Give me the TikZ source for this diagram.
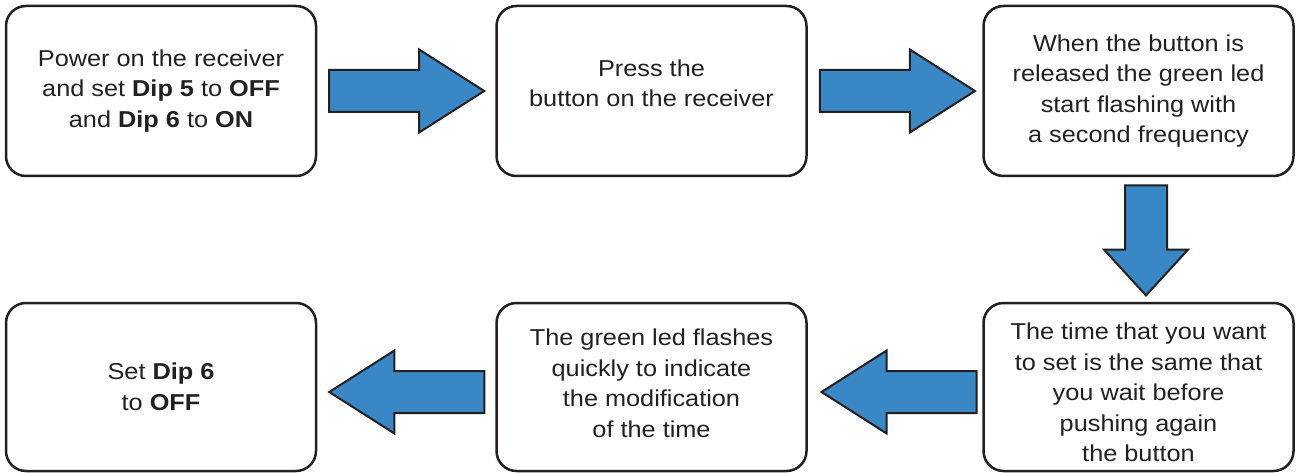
\documentclass[tikz,border=0pt]{standalone}
\usepackage{fontspec}
\setmainfont{Liberation Sans}[FakeStretch=1.1]
\usetikzlibrary{shapes.arrows,calc}

\definecolor{arrowblue}{RGB}{58,135,198}
\definecolor{inkline}{RGB}{35,31,32}

\tikzset{
  stepbox/.style={draw=inkline, line width=2.5pt, rounded corners=20pt,
    minimum width=310pt, minimum height=170pt, inner sep=0pt,
    align=center, text=inkline, font=\fontsize{23}{30.5}\selectfont},
  blockarrow/.style={single arrow, draw=inkline, line width=2pt, fill=arrowblue,
    inner sep=20pt, single arrow head extend=20.5pt, minimum height=155pt,
    single arrow tip angle=65},
}

\begin{document}
\begin{tikzpicture}[x=1pt,y=-1pt]

      \useasboundingbox (0,0) rectangle (1297,473);

      % top row
      \node[stepbox] (power) at (161,91) {Power on the receiver\\
        and set \textbf{Dip 5} to \textbf{OFF}\\ and \textbf{Dip 6} to \textbf{ON}};
      \node[stepbox, text depth=16pt] (press) at (651.5,91) {Press the\\ button on the receiver};
      \node[stepbox] (release) at (1138.5,91) {When the button is\\
        released the green led\\ start flashing with\\ a second frequency};

      % bottom row
      \node[stepbox, minimum height=168pt, text height=150pt] (wait) at (1138.5,387)
        {The time that you want\\ to set is the same that\\ you wait before\\
        pushing again\\ the button};
      \node[stepbox, minimum height=168pt, text depth=8pt] (flash) at (651.5,387)
        {The green led flashes\\ quickly to indicate\\ the modification\\ of the time};
      \node[stepbox, minimum height=168pt] (setoff) at (161,387) {Set \textbf{Dip 6}\\
        to \textbf{OFF}};

      % block arrows between the steps
      \node[blockarrow, xshift=-16pt] (a1) at ($(power)!0.5!(press)$) {};
      \node[blockarrow, xshift=-14pt] (a2) at ($(press)!0.5!(release)$) {};
      \node[blockarrow, shape border rotate=270, minimum height=110pt,
        single arrow head extend=21pt, single arrow tip angle=85,
        xshift=7.5pt, yshift=10pt] (a3) at ($(release)!0.5!(wait)$) {};
      \node[blockarrow, shape border rotate=180, yshift=-5pt, xshift=20.5pt]
        (a4) at ($(wait)!0.5!(flash)$) {};
      \node[blockarrow, shape border rotate=180, yshift=-5pt, xshift=17pt]
        (a5) at ($(flash)!0.5!(setoff)$) {};

    \end{tikzpicture}
\end{document}
